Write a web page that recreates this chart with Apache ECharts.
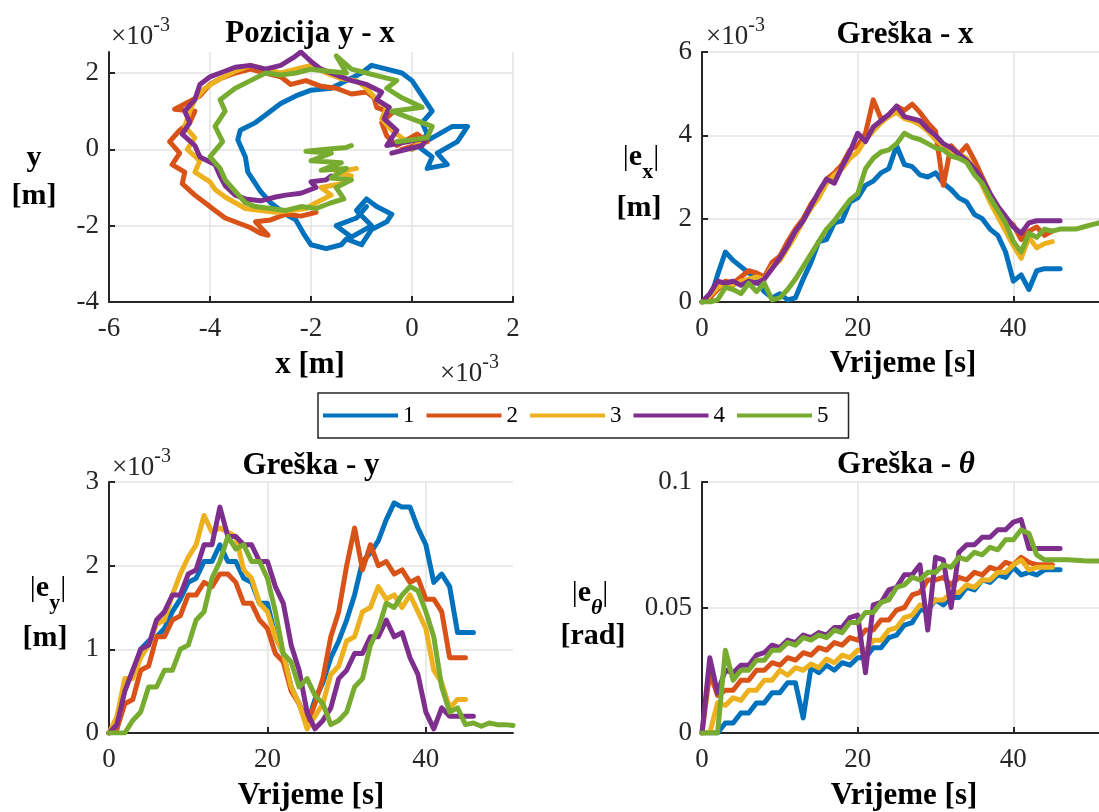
<!DOCTYPE html>
<html>
<head>
<meta charset="utf-8">
<title>Pozicija i greške</title>
<script src="https://cdn.jsdelivr.net/npm/echarts@6/dist/echarts.min.js"></script>
<style>
  html, body { margin: 0; padding: 0; background: #fff; }
  #chart { width: 1099px; height: 812px; }
</style>
</head>
<body>
<div id="chart"></div>
<script>
// vremenska os [s]
const time = [0,1,2,3,4,5,6,7,8,9,10,11,12,13,14,15,16,17,18,19,20,21,22,23,24,25,
  26,27,28,29,30,31,32,33,34,35,36,37,38,39,40,41,42,43,44,45,46,47,48,49,50,51];

// pozicija y - x (x10^-3 m)
const posX1 = [0.0,0.4,0.8,1.1,0.9,0.5,0.7,0.3,0.4,0.1,0.3,0.2,0.4,0.2,0.0,-0.2,-0.5,-0.8,-1.0,-1.3,
  -1.6,-2.0,-2.3,-2.6,-2.9,-3.1,-3.4,-3.45,-3.3,-3.25,-3.1,-3.0,-2.8,-2.5,-2.3,-2.15,-2.0,-1.7,-1.4,-1.3,
  -1.0,-0.8,-0.5,-0.4,-0.7,-0.9,-1.1,-0.8,-1.2,-1.5,-1.1,-0.9];
const posY1 = [0.0,0.3,0.6,0.6,0.2,-0.1,-0.4,-0.5,-0.2,0.1,0.4,0.7,1.0,1.4,1.8,2.0,2.1,2.2,2.0,1.8,
  1.6,1.55,1.4,1.2,0.9,0.7,0.5,0.25,-0.2,-0.6,-0.9,-1.1,-1.4,-1.7,-1.85,-2.2,-2.5,-2.6,-2.5,-2.35,
  -2.5,-2.1,-1.9,-1.7,-1.5,-1.3,-1.6,-2.0,-2.3,-2.0,-1.8,-1.5];
const posX2 = [-0.2,0.3,0.1,-0.3,-0.5,-0.6,-0.4,-0.7,-0.75,-0.9,-1.2,-1.5,-1.8,-2.1,-2.4,-2.6,-2.9,-3.2,-3.5,-3.8,
  -4.0,-4.2,-4.7,-4.3,-4.4,-4.6,-4.8,-4.6,-4.75,-4.5,-4.55,-4.3,-4.1,-3.9,-3.7,-3.4,-3.2,-3.0,-2.85,-3.1,
  -2.8,-2.5,-2.2,-1.9];
const posY2 = [0.0,0.2,0.4,0.1,0.35,0.7,0.95,1.1,1.35,1.5,1.45,1.6,1.65,1.8,1.7,1.9,2.0,2.1,2.0,1.85,
  1.7,1.4,1.05,1.0,0.7,0.5,0.2,-0.1,-0.4,-0.6,-0.9,-1.2,-1.4,-1.6,-1.8,-1.95,-2.05,-2.2,-2.25,-1.9,
  -1.85,-1.7,-1.75,-1.65];
const posX3 = [0.0,0.25,-0.1,-0.4,-0.6,-0.5,-0.7,-0.9,-1.1,-1.4,-1.7,-2.0,-2.3,-2.6,-2.9,-3.2,-3.5,-3.8,-4.1,-4.3,
  -4.4,-4.5,-4.3,-4.45,-4.2,-4.3,-4.0,-3.9,-3.7,-3.5,-3.3,-3.0,-2.7,-2.4,-2.1,-1.9,-1.6,-1.8,-1.4,-1.2,
  -1.5,-1.1];
const posY3 = [0.0,0.3,0.2,0.5,0.8,1.1,1.3,1.6,1.8,1.85,2.0,2.2,2.1,2.0,2.1,2.2,2.05,1.85,1.6,1.3,
  1.0,0.6,0.3,0.0,-0.3,-0.6,-0.85,-1.05,-1.25,-1.4,-1.55,-1.6,-1.65,-1.6,-1.55,-1.4,-1.2,-1.0,-0.9,-0.7,
  -0.6,-0.5];
const posX4 = [-0.4,0.2,0.3,-0.1,-0.5,-0.3,-0.55,-0.45,-0.7,-0.6,-0.9,-1.2,-1.5,-1.8,-2.0,-2.2,-2.35,-2.6,-2.9,-3.2,
  -3.5,-3.8,-4.0,-4.2,-4.3,-4.5,-4.4,-4.55,-4.3,-4.2,-3.9,-3.8,-3.7,-3.5,-3.3,-3.0,-2.7,-2.5,-2.2,-1.9,
  -2.0,-1.7,-1.6];
const posY4 = [-0.1,0.1,0.3,0.2,0.1,0.5,0.8,1.1,1.3,1.5,1.7,1.8,1.95,2.1,2.3,2.55,2.4,2.2,2.1,2.2,
  2.15,2.0,1.9,1.7,1.3,1.0,0.7,0.4,0.1,-0.2,-0.4,-0.7,-0.95,-1.2,-1.3,-1.35,-1.25,-1.2,-1.15,-1.0,
  -0.85,-0.8,-0.7];
const posX5 = [-0.3,0.3,0.4,0.0,-0.4,0.2,-0.2,-0.5,-0.3,-0.6,-0.9,-1.2,-1.5,-1.3,-1.7,-2.0,-2.3,-2.6,-2.9,-3.2,
  -3.5,-3.8,-3.7,-3.9,-3.75,-4.0,-3.8,-3.7,-3.5,-3.3,-3.1,-2.8,-2.5,-2.2,-1.9,-1.6,-1.35,-1.5,-1.2,-1.6,
  -1.3,-1.8,-1.4,-2.0,-1.6,-2.1,-1.7,-1.3,-1.2];
const posY5 = [0.2,0.3,0.6,0.8,1.0,1.1,1.35,1.6,1.8,1.9,2.0,2.1,2.45,2.0,2.05,2.1,2.0,1.95,2.0,1.8,
  1.6,1.3,1.0,0.6,0.2,-0.2,-0.5,-0.8,-1.1,-1.4,-1.5,-1.55,-1.6,-1.5,-1.55,-1.4,-1.3,-1.0,-0.8,-0.75,
  -0.5,-0.55,-0.35,-0.3,-0.1,-0.05,0.0,0.05,0.1];

// greska x (x10^-3 m)
const ex1 = [0,0.05,0.65,1.2,1.0,0.85,0.7,0.55,0.25,0.1,0.2,0.05,0.1,0.55,0.95,1.45,1.5,1.9,1.95,2.4,
  2.5,2.8,2.9,3.1,3.2,3.75,3.3,3.25,3.05,3.0,3.1,2.85,2.7,2.5,2.4,2.1,2.0,1.75,1.6,1.2,
  0.5,0.65,0.3,0.75,0.8,0.8,0.8];
const ex2 = [0,0.1,0.3,0.5,0.45,0.6,0.75,0.7,0.6,0.95,1.1,1.45,1.75,2.0,2.35,2.6,2.95,3.1,3.3,3.65,
  3.75,4.05,4.85,4.4,4.45,4.7,4.6,4.75,4.55,4.3,4.1,2.8,3.75,3.55,3.75,3.4,3.0,2.6,2.25,2.0,
  1.85,1.5,1.7,1.8,1.6,1.7];
const ex3 = [0,0.15,0.35,0.45,0.4,0.5,0.55,0.6,0.55,0.85,1.0,1.3,1.6,1.95,2.25,2.5,2.85,3.05,3.2,3.45,
  3.6,3.9,4.1,4.3,4.45,4.55,4.4,4.35,4.25,4.1,3.9,3.75,3.6,3.55,3.45,3.2,2.8,2.4,2.05,1.7,
  1.35,1.05,1.55,1.3,1.4,1.45];
const ex4 = [0,0.2,0.5,0.45,0.5,0.4,0.5,0.45,0.55,0.8,1.05,1.35,1.7,1.95,2.3,2.65,2.95,2.85,3.25,3.6,
  4.05,3.85,4.2,4.35,4.5,4.7,4.45,4.4,4.35,4.15,4.0,3.8,3.7,3.55,3.4,3.2,2.95,2.6,2.3,2.05,
  1.8,1.65,1.9,1.95,1.95,1.95,1.95];
const ex5 = [0,0,0.05,0.35,0.3,0.2,0.45,0.25,0.45,0.05,0.1,0.3,0.55,0.85,1.15,1.45,1.75,1.95,2.2,2.45,
  2.6,3.2,3.45,3.6,3.65,3.8,4.05,3.95,3.9,3.8,3.7,3.65,3.5,3.45,3.35,3.05,2.85,2.5,2.2,1.9,
  1.45,1.2,1.65,1.55,1.75,1.7,1.75,1.75,1.75,1.8,1.85,1.9];

// greska y (x10^-3 m)
const ey1 = [0,0.05,0.6,0.7,1.0,1.1,1.15,1.25,1.45,1.6,1.8,1.85,2.05,2.05,2.25,2.05,2.05,1.85,1.8,1.55,
  1.55,1.15,0.95,0.55,0.35,0.1,0.4,0.6,0.9,1.1,1.35,1.65,2.05,2.15,2.3,2.55,2.75,2.7,2.7,2.45,
  2.25,1.8,1.9,1.75,1.2,1.2,1.2];
const ey2 = [0,0.05,0.35,0.4,0.75,0.8,1.15,1.15,1.35,1.4,1.65,1.65,1.8,1.75,1.9,1.9,1.8,1.55,1.55,1.35,
  1.25,0.95,0.85,0.5,0.35,0.1,0.35,0.65,1.15,1.45,2.0,2.45,1.95,2.25,2.0,2.05,1.9,1.95,1.8,1.85,
  1.6,1.6,1.45,0.9,0.9,0.9];
const ey3 = [0,0.2,0.65,0.65,0.9,1.05,1.3,1.35,1.65,1.9,2.1,2.25,2.6,2.4,2.45,2.4,2.35,1.95,1.85,1.55,
  1.45,1.15,0.95,0.55,0.35,0.05,0.2,0.35,0.7,0.8,1.1,1.15,1.45,1.5,1.75,1.6,1.65,1.5,1.65,1.45,
  1.25,0.75,0.6,0.3,0.4,0.4];
const ey4 = [0,0.1,0.5,0.75,1.0,1.05,1.35,1.45,1.65,1.65,1.9,1.95,2.25,2.25,2.7,2.35,2.35,2.25,2.25,2.05,
  2.05,1.75,1.55,1.05,0.75,0.25,0.05,0.15,0.3,0.65,0.75,0.95,0.95,1.15,1.15,1.35,1.15,1.2,0.9,0.7,
  0.25,0.05,0.3,0.2,0.2,0.2,0.2];
const ey5 = [0,0,0,0.15,0.25,0.55,0.55,0.75,0.75,1.0,1.05,1.35,1.45,1.85,2.05,2.35,2.2,2.25,2.05,2.05,
  1.85,1.45,0.95,0.85,0.55,0.65,0.45,0.35,0.1,0.15,0.25,0.55,0.65,1.05,1.25,1.55,1.5,1.65,1.75,1.7,
  1.45,1.15,0.55,0.25,0.3,0.1,0.12,0.08,0.12,0.1,0.1,0.09];

// greska theta [rad]
const eth1 = [0,0,0,0.004,0.004,0.008,0.008,0.012,0.012,0.016,0.016,0.020,0.020,0.006,0.026,0.024,0.027,0.025,0.028,0.027,
  0.030,0.030,0.034,0.034,0.038,0.039,0.043,0.044,0.049,0.049,0.053,0.051,0.054,0.054,0.058,0.057,0.061,0.060,0.063,0.062,
  0.066,0.063,0.064,0.063,0.065,0.065,0.065];
const eth2 = [0,0.024,0.015,0.017,0.017,0.021,0.021,0.025,0.025,0.028,0.027,0.030,0.029,0.032,0.031,0.034,0.033,0.036,0.035,0.038,
  0.037,0.041,0.041,0.045,0.045,0.049,0.050,0.055,0.056,0.061,0.061,0.062,0.059,0.062,0.061,0.064,0.063,0.066,0.065,0.068,
  0.067,0.070,0.068,0.067,0.067,0.067];
const eth3 = [0,0,0.012,0.011,0.014,0.013,0.017,0.017,0.021,0.021,0.025,0.023,0.026,0.025,0.0275,0.026,0.0295,0.028,0.031,0.030,
  0.033,0.033,0.037,0.037,0.041,0.042,0.046,0.047,0.051,0.050,0.053,0.053,0.056,0.056,0.059,0.058,0.061,0.061,0.064,0.064,
  0.067,0.069,0.065,0.066,0.066,0.066];
const eth4 = [0,0.030,0.016,0.025,0.024,0.027,0.027,0.031,0.032,0.035,0.034,0.037,0.036,0.039,0.038,0.040,0.039,0.042,0.042,0.046,
  0.047,0.024,0.051,0.052,0.057,0.058,0.063,0.063,0.067,0.041,0.070,0.069,0.050,0.072,0.075,0.075,0.078,0.078,0.081,0.081,
  0.084,0.085,0.0735,0.0735,0.0735,0.0735,0.0735];
const eth5 = [0,0,0,0.033,0.021,0.025,0.025,0.029,0.029,0.033,0.033,0.036,0.035,0.038,0.037,0.039,0.038,0.041,0.040,0.044,
  0.044,0.048,0.048,0.052,0.053,0.058,0.059,0.062,0.061,0.064,0.064,0.067,0.066,0.070,0.069,0.072,0.071,0.074,0.073,0.077,
  0.077,0.081,0.0795,0.071,0.069,0.069,0.069,0.069,0.0688,0.0686,0.0685,0.0685];

const names = ['1', '2', '3', '4', '5'];
const colors = ['#0072BD', '#D95319', '#EDB120', '#7E2F8E', '#77AC30'];
const timeTicks = [0, 20, 40];

const FONT = '"Liberation Serif", "Times New Roman", serif';
const AXIS = '#262626';

const chart = echarts.init(document.getElementById('chart'));

function withTime(vals) {
  return vals.map((v, i) => [time[i], v]);
}
function withXY(xs, ys) {
  return xs.map((x, i) => [x, ys[i]]);
}

function mkLine(grid, k, data) {
  return {
    name: names[k],
    type: 'line',
    xAxisIndex: grid,
    yAxisIndex: grid,
    data: data,
    showSymbol: false,
    symbol: 'none',
    lineStyle: { width: 5, color: colors[k], join: 'round', cap: 'round' },
    itemStyle: { color: colors[k] },
    z: 2 + k
  };
}

function mkAxis(dim, grid, min, max, interval, ticks) {
  return {
    gridIndex: grid,
    type: 'value',
    position: dim === 'x' ? 'bottom' : 'left',
    min: min,
    max: max,
    interval: interval,
    axisLine: { onZero: false, lineStyle: { color: AXIS, width: 2 } },
    axisTick: { inside: true, length: 6, lineStyle: { color: AXIS, width: 2 }, customValues: ticks },
    axisLabel: {
      customValues: ticks,
      margin: dim === 'x' ? 13 : 10,
      fontFamily: FONT,
      fontSize: 27,
      color: AXIS
    },
    splitLine: { show: true, lineStyle: { color: '#e3e3e3', width: 1.5 } }
  };
}

// tekstovi
function txt(x, y, text, rich, align) {
  return {
    type: 'text',
    x: x,
    y: y,
    style: {
      text: text,
      rich: rich,
      fontFamily: FONT,
      fontSize: 30,
      fontWeight: 'bold',
      fill: '#000',
      align: align || 'center',
      verticalAlign: 'middle'
    }
  };
}
const richLbl = {
  b: { fontFamily: FONT, fontSize: 30, fontWeight: 'bold', fill: '#000' },
  n: { fontFamily: FONT, fontSize: 30, fontWeight: 'normal', fill: '#000' },
  s: { fontFamily: FONT, fontSize: 22, fontWeight: 'bold', fill: '#000', padding: [30, 0, 0, 0] },
  si: { fontFamily: FONT, fontSize: 22, fontWeight: 'bold', fontStyle: 'italic', fill: '#000', padding: [30, 0, 0, 0] },
  t: { fontFamily: FONT, fontSize: 31, fontWeight: 'bold', fill: '#000' },
  ti: { fontFamily: FONT, fontSize: 31, fontWeight: 'bold', fontStyle: 'italic', fill: '#000' }
};
const richExp = {
  m: { fontFamily: FONT, fontSize: 27, fill: AXIS },
  e: { fontFamily: FONT, fontSize: 20, fill: AXIS, padding: [0, 0, 22, 0] }
};

const graphics = [
  txt(310, 34, '{t|Pozicija y - x}', richLbl),
  txt(905, 35, '{t|Greška - x}', richLbl),
  txt(311, 466, '{t|Greška - y}', richLbl),
  txt(906, 465, '{t|Greška - }{ti|θ}', richLbl),

  txt(310, 365, '{t|x [m]}', richLbl),
  txt(903, 364, '{t|Vrijeme [s]}', richLbl),
  txt(311, 796, '{t|Vrijeme [s]}', richLbl),
  txt(904, 796, '{t|Vrijeme [s]}', richLbl),

  txt(111, 37, '{m|×10}{e|-3}', richExp, 'left'),
  txt(706, 37, '{m|×10}{e|-3}', richExp, 'left'),
  txt(112, 468, '{m|×10}{e|-3}', richExp, 'left'),
  txt(440, 374, '{m|×10}{e|-3}', richExp, 'left'),

  txt(34, 158, '{b|y}', richLbl),
  txt(34, 196, '{b|[m]}', richLbl),
  txt(641, 157, '{n||}{b|e}{s|x}{n||}', richLbl),
  txt(639, 208, '{b|[m]}', richLbl),
  txt(48, 588, '{n||}{b|e}{s|y}{n||}', richLbl),
  txt(45, 638, '{b|[m]}', richLbl),
  txt(590, 593, '{n||}{b|e}{si|θ}{n||}', richLbl),
  txt(593, 636, '{b|[rad]}', richLbl)
];

const series = [];
const pos = [[posX1, posY1], [posX2, posY2], [posX3, posY3], [posX4, posY4], [posX5, posY5]];
pos.forEach((p, k) => series.push(mkLine(0, k, withXY(p[0], p[1]))));
[ex1, ex2, ex3, ex4, ex5].forEach((s, k) => series.push(mkLine(1, k, withTime(s))));
[ey1, ey2, ey3, ey4, ey5].forEach((s, k) => series.push(mkLine(2, k, withTime(s))));
[eth1, eth2, eth3, eth4, eth5].forEach((s, k) => series.push(mkLine(3, k, withTime(s))));

chart.setOption({
  animation: false,
  backgroundColor: '#fff',
  grid: [
    { left: 109, top: 52, width: 404, height: 250 },
    { left: 702, top: 52, width: 404, height: 250 },
    { left: 109, top: 482, width: 404, height: 251 },
    { left: 702, top: 482, width: 404, height: 251 }
  ],
  xAxis: [
    mkAxis('x', 0, -6, 2, 2, [-6, -4, -2, 0, 2]),
    mkAxis('x', 1, 0, 51, 20, timeTicks),
    mkAxis('x', 2, 0, 51, 20, timeTicks),
    mkAxis('x', 3, 0, 51, 20, timeTicks)
  ],
  yAxis: [
    mkAxis('y', 0, -4, 2.55, 2, [-4, -2, 0, 2]),
    mkAxis('y', 1, 0, 6, 2, [0, 2, 4, 6]),
    mkAxis('y', 2, 0, 3, 1, [0, 1, 2, 3]),
    mkAxis('y', 3, 0, 0.1, 0.05, [0, 0.05, 0.1])
  ],
  legend: {
    data: names,
    left: 318,
    top: 393,
    orient: 'horizontal',
    icon: 'rect',
    itemWidth: 75,
    itemHeight: 4,
    itemGap: 12,
    padding: [11, 20, 11, 5],
    borderColor: AXIS,
    borderWidth: 1.5,
    borderRadius: 0,
    selectedMode: false,
    textStyle: { fontFamily: FONT, fontSize: 23, color: '#000' }
  },
  graphic: graphics,
  series: series
});
</script>
</body>
</html>
